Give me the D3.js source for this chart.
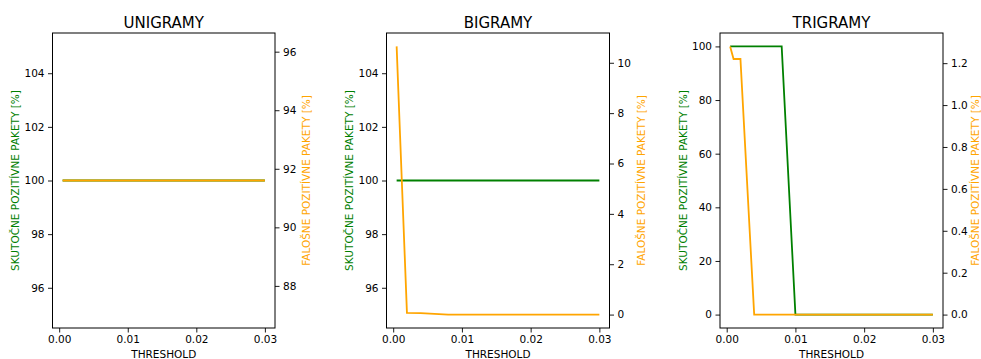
<!DOCTYPE html>
<html>
<head>
<meta charset="utf-8">
<script src="https://cdn.jsdelivr.net/npm/d3@7"></script>
<style>
  html, body { margin: 0; padding: 0; background: #fff; }
  svg { display: block; }
  text { font-family: "DejaVu Sans", sans-serif; fill: #000; }
</style>
</head>
<body>
<svg id="chart" width="981" height="359"></svg>
<script>
// Detection thresholds shared by all three n-gram models
const thresholds = [0.0005, 0.001, 0.002, 0.004, 0.008, 0.01, 0.02, 0.03];

// True positive packets [%]
const uniTP = [100, 100, 100, 100, 100, 100, 100, 100];
const biTP  = [100, 100, 100, 100, 100, 100, 100, 100];
const triTP = [100, 100, 100, 100, 100, 0, 0, 0];

// False positive packets [%]
const uniFP = [91.6, 91.6, 91.6, 91.6, 91.6, 91.6, 91.6, 91.6];
const biFP  = [10.65, 7.1, 0.07, 0.06, 0, 0, 0, 0];
const triFP = [1.28, 1.22, 1.22, 0, 0, 0, 0, 0];

// Panel titles and axis texts
const titles = ["UNIGRAMY", "BIGRAMY", "TRIGRAMY"];
const xLabel = "THRESHOLD";
const tpLabel = "SKUTOČNE POZITÍVNE PAKETY [%]";
const fpLabel = "FALOŠNE POZITÍVNE PAKETY [%]";

// Tick values
const xTicks = [0.00, 0.01, 0.02, 0.03];
const uniTPTicks = [96, 98, 100, 102, 104];
const uniFPTicks = [88, 90, 92, 94, 96];
const biTPTicks = [96, 98, 100, 102, 104];
const biFPTicks = [0, 2, 4, 6, 8, 10];
const triTPTicks = [0, 20, 40, 60, 80, 100];
const triFPTicks = [0.0, 0.2, 0.4, 0.6, 0.8, 1.0, 1.2];

const panels = [
  { title: titles[0], tp: uniTP, fp: uniFP, tpTicks: uniTPTicks, fpTicks: uniFPTicks, fpFmt: d3.format("d"), left: 52.5, right: 275, rOff: 31 },
  { title: titles[1], tp: biTP,  fp: biFP,  tpTicks: biTPTicks,  fpTicks: biFPTicks,  fpFmt: d3.format("d"), left: 386.5, right: 609.5, rOff: 31 },
  { title: titles[2], tp: triTP, fp: triFP, tpTicks: triTPTicks, fpTicks: triFPTicks, fpFmt: d3.format(".1f"), left: 720, right: 943, rOff: 32 }
];

const GREEN = "#008000";
const ORANGE = "#ffa500";
const plotTop = 33, plotBottom = 328;
const tickFont = 10.5;

// Autoscale like a plotting library: pad singular ranges, then add 5% margins
function autoDomain(values) {
  let lo = d3.min(values), hi = d3.max(values);
  if (lo === hi) { const d = Math.abs(lo) * 0.05 || 1; lo -= d; hi += d; }
  const m = (hi - lo) * 0.05;
  return [lo - m, hi + m];
}

const svg = d3.select("#chart");

panels.forEach(p => {
  const g = svg.append("g");
  const x = d3.scaleLinear().domain(autoDomain(thresholds)).range([p.left, p.right]);
  const yL = d3.scaleLinear().domain(autoDomain(p.tp)).range([plotBottom, plotTop]);
  const yR = d3.scaleLinear().domain(autoDomain(p.fp)).range([plotBottom, plotTop]);

  const styleAxis = (sel) => {
    sel.select(".domain").remove();
    sel.selectAll(".tick line").attr("stroke", "#000").attr("stroke-width", 0.9);
    sel.selectAll(".tick text").attr("font-size", tickFont).attr("font-family", "DejaVu Sans, sans-serif").attr("fill", "#000");
  };

  g.append("g").attr("transform", `translate(0,${plotBottom})`)
    .call(d3.axisBottom(x).tickValues(xTicks).tickFormat(d3.format(".2f")).tickSize(4.5).tickPadding(3.5))
    .call(styleAxis);
  g.append("g").attr("transform", `translate(${p.left},0)`)
    .call(d3.axisLeft(yL).tickValues(p.tpTicks).tickFormat(d3.format("d")).tickSize(4.5).tickPadding(3.5))
    .call(styleAxis);
  g.append("g").attr("transform", `translate(${p.right},0)`)
    .call(d3.axisRight(yR).tickValues(p.fpTicks).tickFormat(p.fpFmt).tickSize(4.5).tickPadding(3.5))
    .call(styleAxis);

  const pts = thresholds.map((t, i) => ({ t, tp: p.tp[i], fp: p.fp[i] }));
  g.append("path").datum(pts)
    .attr("fill", "none").attr("stroke", GREEN).attr("stroke-width", 1.8)
    .attr("d", d3.line().x(d => x(d.t)).y(d => yL(d.tp)));
  g.append("path").datum(pts)
    .attr("fill", "none").attr("stroke", ORANGE).attr("stroke-width", 1.8)
    .attr("d", d3.line().x(d => x(d.t)).y(d => yR(d.fp)));

  // Frame
  g.append("rect")
    .attr("x", p.left).attr("y", plotTop)
    .attr("width", p.right - p.left).attr("height", plotBottom - plotTop)
    .attr("fill", "none").attr("stroke", "#000").attr("stroke-width", 1);

  const cx = (p.left + p.right) / 2, cy = (plotTop + plotBottom) / 2;
  g.append("text").attr("x", cx).attr("y", 27.5)
    .attr("text-anchor", "middle").attr("font-size", 15).text(p.title);
  g.append("text").attr("x", cx).attr("y", 358)
    .attr("text-anchor", "middle").attr("font-size", tickFont).text(xLabel);

  g.append("text")
    .attr("transform", `translate(${p.left - 37.5},${cy}) rotate(-90)`)
    .attr("text-anchor", "middle").attr("dominant-baseline", "central")
    .attr("font-size", tickFont).style("fill", GREEN).text(tpLabel);
  g.append("text")
    .attr("transform", `translate(${p.right + p.rOff},${cy}) rotate(-90)`)
    .attr("text-anchor", "middle").attr("dominant-baseline", "central")
    .attr("font-size", tickFont).style("fill", ORANGE).text(fpLabel);
});
</script>
</body>
</html>
